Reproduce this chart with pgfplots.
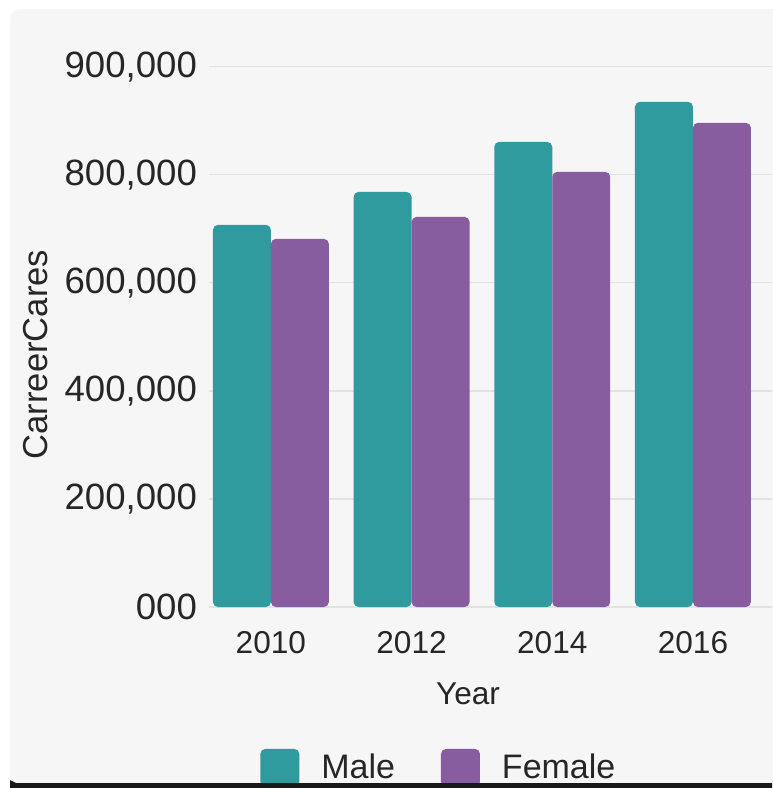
\documentclass[border=0pt]{standalone}
\usepackage{pgfplots}
\pgfplotsset{compat=1.18}
\usepackage{fontspec}
\setmainfont{Liberation Sans}
\definecolor{teal1}{HTML}{2F9B9E}
\definecolor{purp1}{HTML}{875DA0}
\definecolor{bg}{HTML}{F6F6F6}
\definecolor{gridc}{HTML}{E2E2E2}
\begin{document}
\begin{tikzpicture}
\useasboundingbox (0pt,0pt) rectangle (386pt,-394pt);
\begin{scope}[x=0.5pt,y=-0.5pt]
\fill[white] (0,0) rectangle (772,788);
\fill[bg, rounded corners=5pt] (10,9) rectangle (800,800);
\end{scope}
\begin{axis}[
  at={(104.5pt,-303.5pt)}, anchor=south west,
  scale only axis, width=281.5pt, height=275.5pt,
  xmin=-0.44, xmax=3.562, ymin=0, ymax=1020000,
  axis line style={draw=none},
  tick style={draw=none},
  ymajorgrids, major grid style={gridc, line width=0.6pt},
  xtick={0,1,2,3}, xticklabels={2010,2012,2014,2016},
  ytick={0,200000,400000,600000,800000,1000000},
  yticklabels={000,{200,000},{400,000},{600,000},{800,000},{900,000}},
  scaled y ticks=false,
  yticklabel style={font=\fontsize{18.3}{20}\selectfont, text=black!85, xshift=-2.5pt},
  xticklabel style={font=\fontsize{15.8}{18}\selectfont, text=black!85, yshift=-4.5pt},
  xlabel={Year},
  xlabel style={at={(axis description cs:0.46,-0.158)}, anchor=center, font=\fontsize{15.8}{18}\selectfont, text=black!85},
  ylabel={CarreerCares},
  ylabel style={at={(axis description cs:-0.308,0.458)}, anchor=center, rotate=0, font=\fontsize{17.3}{19}\selectfont, text=black!85},
  ybar, bar width=0.412,
  legend style={at={(axis description cs:0.41,-0.292)}, anchor=center, draw=none, fill=none,
    legend columns=2, font=\fontsize{17}{20}\selectfont, text=black!85,
    /tikz/every odd column/.append style={column sep=9pt},
    /tikz/every even column/.append style={column sep=21pt}},
  legend image code/.code={\fill[#1, rounded corners=2.5pt] (0pt,-9.5pt) rectangle (19.5pt,9.5pt);},
]
\addplot[fill=teal1, draw=none, bar shift=-0.206, rounded corners=2.5pt] coordinates {
  (0,707400) (1,768500) (2,861100) (3,935200)};
\addlegendentry{Male}
\addplot[fill=purp1, draw=none, bar shift=0.206, rounded corners=2.5pt] coordinates {
  (0,681500) (1,722200) (2,805600) (3,896300)};
\addlegendentry{Female}
\end{axis}
\begin{scope}[x=0.5pt,y=-0.5pt]
\fill[black!90] (16,783) -- (772,783) -- (772,788) -- (10,788) -- (10,780) -- cycle;
\end{scope}
\end{tikzpicture}
\end{document}
